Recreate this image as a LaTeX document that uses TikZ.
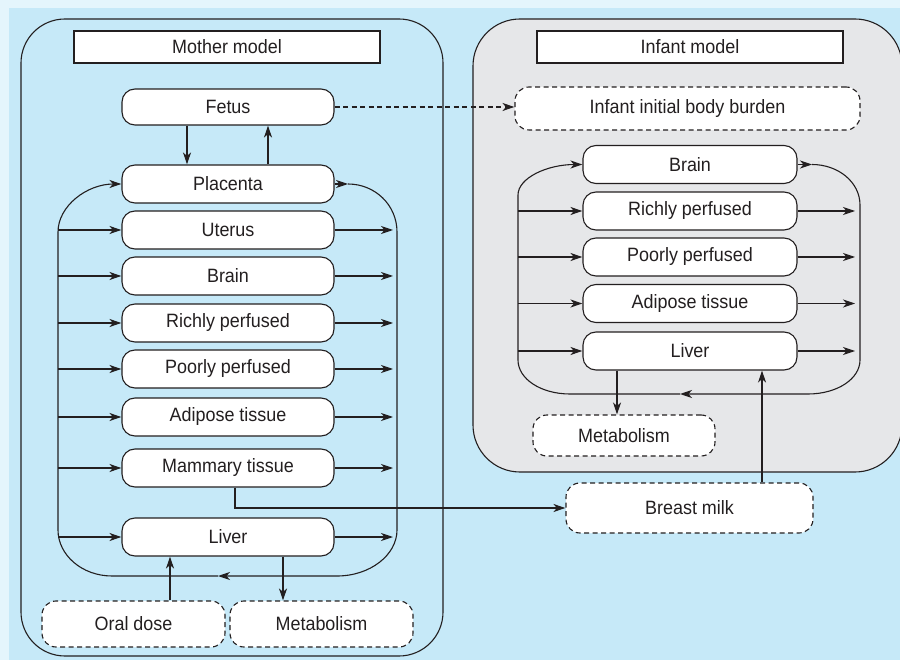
\documentclass[tikz,border=0pt]{standalone}
\usepackage{fontspec}
\setmainfont{Liberation Sans}[FakeStretch=0.93]
\usetikzlibrary{arrows.meta}
\definecolor{bgouter}{HTML}{E4F5FC}
\definecolor{bgblue}{HTML}{C6E9F8}
\definecolor{infgray}{HTML}{E6E7E9}
\definecolor{ink}{HTML}{231F20}
\tikzset{
  lbl/.style={font=\fontsize{19.3}{21}\selectfont, text=ink},
  organ/.style={lbl, draw=ink, fill=white, line width=1.1pt, rounded corners=13pt,
    minimum width=212pt, minimum height=38pt, inner sep=0pt},
  iorgan/.style={organ, minimum width=214pt},
  dbox/.style={lbl, draw=ink, fill=white, line width=1.1pt, dashed,
    dash pattern=on 5pt off 3.5pt, rounded corners=14pt, inner sep=0pt},
  tbox/.style={lbl, draw=ink, fill=white, line width=1.1pt, minimum width=306pt,
    minimum height=32pt, inner sep=0pt},
  cont/.style={draw=ink, line width=1.1pt},
  conn/.style={draw=ink, line width=1.1pt},
  arr/.style={conn, -{Stealth[length=12pt,width=8pt,inset=3.5pt]}},
}
\begin{document}
\begin{tikzpicture}[x=1pt,y=-1pt]
\useasboundingbox (0,0) rectangle (900,660);
\fill[bgouter] (0,0) rectangle (900,660);
\fill[bgblue] (9,8) rectangle (900,660);
% containers
\draw[cont, fill=bgblue, rounded corners=44pt] (21,19) rectangle (443,656);
\begin{scope}
\clip (0,0) rectangle (900,660);
\draw[cont, fill=infgray, rounded corners=47pt] (473,19) rectangle (902,472);
\end{scope}
% titles
\node[tbox] (mtitle) at (227,47) {Mother model};
\node[tbox] (ititle) at (690,47) {Infant model};
% mother nodes
\node[organ, minimum height=36pt] (fetus) at (228,107) {Fetus};
\node[organ] (placenta) at (228,184) {Placenta};
\node[organ] (uterus) at (228,230) {Uterus};
\node[organ] (mbrain) at (228,276) {Brain};
\node[organ] (mrich) at (228,323) {Richly perfused};
\node[organ] (mpoor) at (228,369) {Poorly perfused};
\node[organ] (madip) at (228,417) {Adipose tissue};
\node[organ] (mamm) at (228,468) {Mammary tissue};
\node[organ] (mliver) at (228,537) {Liver};
\node[dbox, minimum width=183pt, minimum height=46pt] (oral) at (133.5,624) {Oral dose};
\node[dbox, minimum width=183pt, minimum height=46pt] (mmeta) at (321.5,624) {Metabolism};
% infant nodes
\node[dbox, minimum width=345pt, minimum height=43pt] (iibb) at (687.5,108.5) {Infant initial body burden};
\node[iorgan] (ibrain) at (690,164.5) {Brain};
\node[iorgan] (irich) at (690,211) {Richly perfused};
\node[iorgan] (ipoor) at (690,257) {Poorly perfused};
\node[iorgan] (iadip) at (690,303.5) {Adipose tissue};
\node[iorgan] (iliver) at (690,351) {Liver};
\node[dbox, minimum width=182pt, minimum height=41pt] (imeta) at (624,435.5) {Metabolism};
\node[dbox, minimum width=247pt, minimum height=50pt] (milk) at (689.5,508) {Breast milk};
% coordinates
\coordinate (mLx) at (58,0);
\coordinate (mRx) at (393,0);
\coordinate (mB) at (218,576);
\coordinate (pr) at (348,184);
\coordinate (iLx) at (518,0);
\coordinate (iRx) at (855,0);
\coordinate (iB) at (680,394);
\coordinate (ir) at (812,164.5);
% mother loop
\draw[arr] (mB) -- (112,576) .. controls (82,576) and (58,555) .. (58,530)
  -- (58,232) .. controls (58,206) and (87,184) .. (placenta.west);
\draw[arr] (placenta.east) -- (pr);
\draw[arr] (pr) .. controls (375,184) and (397,205) .. (397,232) -- (397,530)
  .. controls (397,555) and (370,576) .. (337,576) -- (mB);
\foreach \n in {uterus,mbrain,mrich,mpoor,madip,mamm,mliver}{
  \draw[arr] (\n.west -| mLx) -- (\n.west);
  \draw[arr] (\n.east) -- (\n.east -| mRx);
}
% fetus - placenta
\draw[arr] ([xshift=-41pt]fetus.south) -- ([xshift=-41pt]placenta.north);
\draw[arr] ([xshift=40pt]placenta.north) -- ([xshift=40pt]fetus.south);
\draw[arr, dashed, dash pattern=on 5pt off 3.5pt] (fetus.east) -- (fetus.east -| iibb.west);
% liver connections
\draw[arr] (oral.north -| 170,0) -- (mliver.south -| 170,0);
\draw[arr] (mliver.south -| 283,0) -- (mmeta.north -| 283,0);
% mammary to milk
\draw[arr] ([xshift=7pt]mamm.south) |- (milk.west);
% infant loop
\draw[arr] (iB) -- (570,394) .. controls (541,394) and (518,379) .. (518,360)
  -- (518,195) .. controls (518,178) and (547,164.5) .. (ibrain.west);
\draw[arr] (ibrain.east) -- (ir);
\draw[arr] (ir) .. controls (838,164.5) and (860,182) .. (860,205) -- (860,360)
  .. controls (860,379) and (837,394) .. (808,394) -- (iB);
\foreach \n in {irich,ipoor,iadip,iliver}{
  \draw[arr] (\n.west -| iLx) -- (\n.west);
  \draw[arr] (\n.east) -- (\n.east -| iRx);
}
\draw[arr] (iliver.south -| 617,0) -- (imeta.north -| 617,0);
\draw[arr] (milk.north -| 762,0) -- (iliver.south -| 762,0);
\end{tikzpicture}
\end{document}
